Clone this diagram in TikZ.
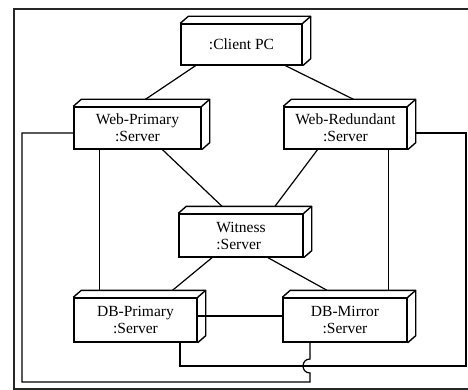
\documentclass[tikz,border=0pt]{standalone}
\usepackage{fontspec}
\setmainfont{Liberation Serif}
\usetikzlibrary{calc}
\tikzset{
	server/.style={draw, line width=1.4pt, fill=white, inner sep=0pt, align=center, minimum height=43pt, font=\fontsize{15.5}{17}\selectfont},
	link/.style={line width=1.2pt}
}
% back faces of a node box
\newcommand{\boxdepth}[1]{%
	\draw[line width=1.4pt, line join=round] (#1.north west) -- ++(8,-7) -| ($(#1.south east)+(8,-7)$) -- (#1.south east);
	\draw[line width=1.4pt] (#1.north east) -- ++(8,-7);}
\begin{document}
\begin{tikzpicture}[x=1pt,y=-1pt]
				\useasboundingbox (0,0) rectangle (468,390);
				%frame
				\draw[line width=1.5pt, black!85] (14,9) rectangle (476,389);
				
				%servers
				\node[server, minimum width=121pt, minimum height=41pt] (client) at (241.5,44.5) {:Client PC};
				\node[server, minimum width=127pt, minimum height=42pt] (webp) at (137.5,128) {Web-Primary\\:Server};
				\node[server, minimum width=123pt, minimum height=42pt] (webr) at (345.5,128) {Web-Redundant\\:Server};
				\node[server, minimum width=124pt, align=left] (witness) at (241,235.5) {Witness\\:Server};
				\node[server, minimum width=123pt, minimum height=44pt] (dbp) at (135.5,320) {DB-Primary\\:Server};
				\node[server, minimum width=124pt, minimum height=44pt] (dbm) at (345,320) {DB-Mirror\\:Server};
				\foreach \n in {client,webp,webr,witness,dbp,dbm} {\boxdepth{\n}}
				
				% links
				\draw[link] ($(client.south)+(-46,0)$) -- ($(webp.north)+(8,-7)$);
				\draw[link] ($(client.south)+(44,0)$) -- ($(webr.north)+(8,-7)$);
				\draw[link] ($(webp.south)+(25,0)$) -- ($(witness.north)+(-19,-7)$);
				\draw[link] ($(webr.south)+(-28,0)$) -- ($(witness.north)+(34,-7)$);
				\draw[link] ($(witness.south)+(-29,0)$) -- ($(dbp.north)+(37,-7)$);
				\draw[link] ($(witness.south)+(27,0)$) -- ($(dbm.north)+(-18,-7)$);
				\draw[link] ($(dbp.east)+(0,-4)$) -- ($(dbm.west)+(0,-4)$);
				\draw[link] ($(webp.south west)+(26,0)$) -- ($(dbp.north west)+(26,-7)$);
				\draw[link] ($(webr.south east)+(-19,0)$) -- ($(dbm.north east)+(-19,-7)$);
				
				% outer loops
				\draw[link] ($(webp.west)+(0,5)$) -| (22,382) -- (310,382) -- (310,373) .. controls (300.7,373) and (300.7,359) .. (310,359) -- ($(dbm.south)+(-35,0)$);
				\draw[link] ($(webr.east)+(8,5)$) -| (466,366) -| ($(dbp.south)+(44.5,0)$);
			\end{tikzpicture}
\end{document}
